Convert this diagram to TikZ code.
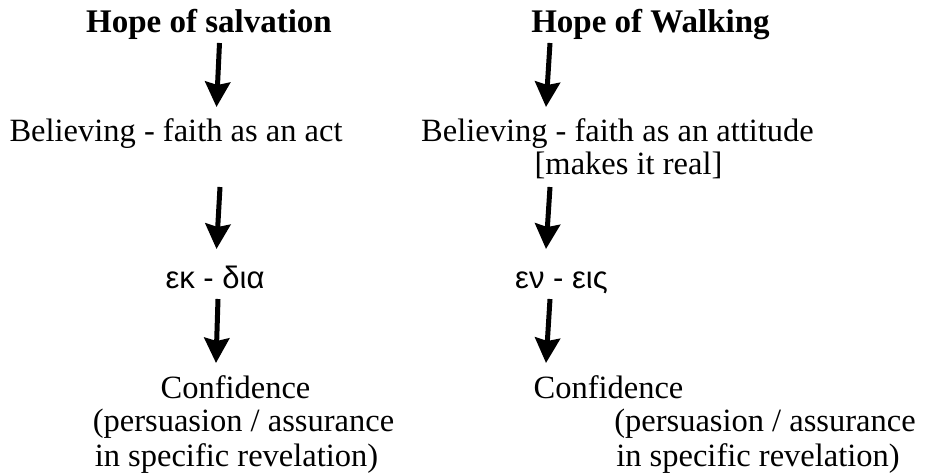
\documentclass[tikz,border=0pt]{standalone}
\usepackage{fontspec}
\setmainfont{Liberation Serif}
\newfontfamily\greekfont{Liberation Sans}
\usetikzlibrary{arrows.meta,calc}
\tikzset{
  txt/.style={inner sep=0pt, anchor=base, font=\fontsize{32.5}{38}\selectfont},
  ttl/.style={txt, font=\fontsize{33}{38}\selectfont\bfseries},
  grk/.style={txt, font=\fontsize{31}{36}\selectfont\greekfont},
  bigarrow/.style={line width=5pt, -{Stealth[width=25pt,length=25pt,inset=3pt]}}
}
\begin{document}
\begin{tikzpicture}[x=1pt,y=-1pt]
\useasboundingbox (0,0) rectangle (926,476);
% left column
\node[ttl] (h1) at (209,33) {Hope of salvation};
\node[txt] (b1) at (176,142) {Believing - faith as an act};
\node[grk] (g1) at (215,288) {εκ - δια};
\node[txt] (c1) at (235.5,398) {Confidence};
\node[txt] (p1) at (243.5,431) {(persuasion / assurance};
\node[txt] (r1) at (236.5,466) {in specific revelation)};
% right column
\node[ttl] (h2) at (650.5,33) {Hope of Walking};
\node[txt] (b2) at (617.5,142) {Believing - faith as an attitude};
\node[txt] (m2) at (628.5,174) {[makes it real]};
\node[grk] (g2) at (561.5,288) {εν - εις};
\node[txt] (c2) at (608.5,398) {Confidence};
\node[txt] (p2) at (765,431) {(persuasion / assurance};
\node[txt] (r2) at (758,466) {in specific revelation)};
% arrows
\draw[bigarrow] ($(h1.base)+(10.5,10)$) -- ($(b1.base)+(40.5,-35)$);
\draw[bigarrow] ($(b1.base)+(44,45)$) -- ($(g1.base)+(1.5,-39)$);
\draw[bigarrow] ($(g1.base)+(3,11)$) -- ($(c1.base)+(-19.5,-35)$);
\draw[bigarrow] ($(h2.base)+(-100.5,10)$) -- ($(b2.base)+(-71.5,-35)$);
\draw[bigarrow] ($(m2.base)+(-78.5,13)$) -- ($(g2.base)+(-15.5,-39)$);
\draw[bigarrow] ($(g2.base)+(-11.5,11)$) -- ($(c2.base)+(-62.5,-35)$);
\end{tikzpicture}
\end{document}
